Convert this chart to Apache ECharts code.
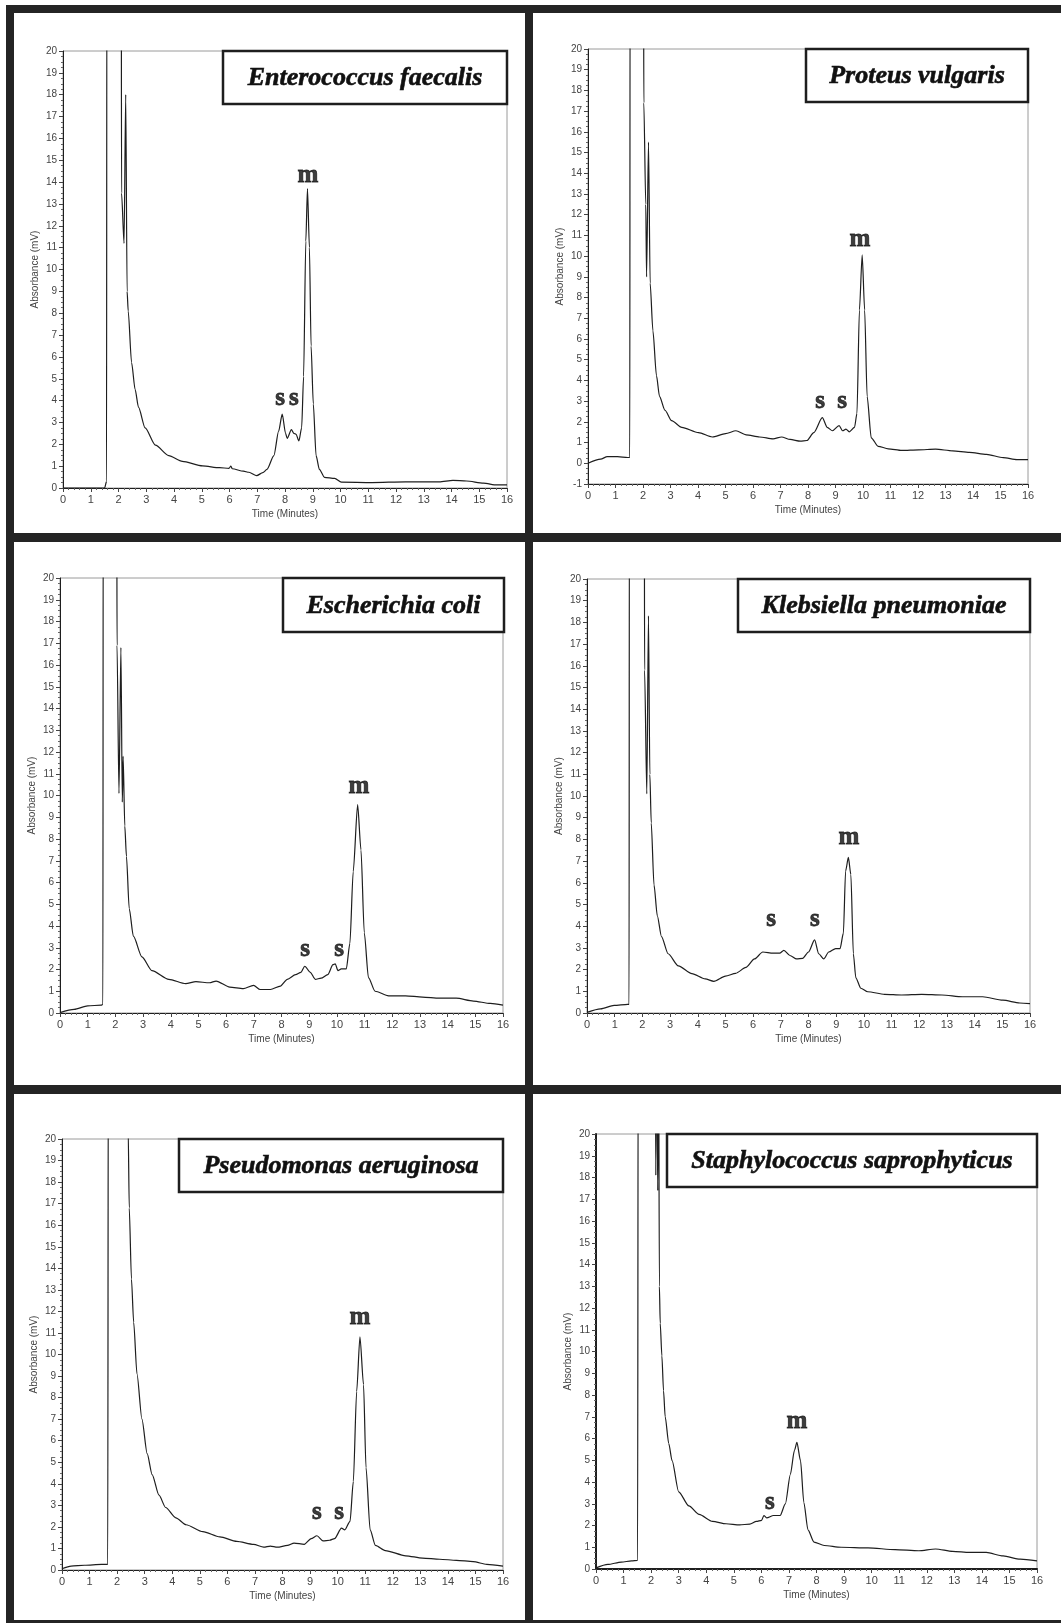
<!DOCTYPE html>
<html>
<head>
<meta charset="utf-8">
<title>HPLC chromatograms</title>
<script src="https://cdn.jsdelivr.net/npm/echarts@6.0.0/dist/echarts.min.js"></script>
<style>
  html, body { margin: 0; padding: 0; background: #fff; }
  #chart { width: 1061px; height: 1623px; }
</style>
</head>
<body>
<div id="chart"></div>
<script>
// panel titles, in reading order
const species = [
  'Enterococcus faecalis', 'Proteus vulgaris',
  'Escherichia coli', 'Klebsiella pneumoniae',
  'Pseudomonas aeruginosa', 'Staphylococcus saprophyticus',
]

// x ticks (minutes)
const timeMin = 0
const timeMax = 16
// lower end of each panel's y axis (mV); top is 20 everywhere
const yMins = [0, -1, 0, 0, 0, 0]
const yMax = 20

// traces: [time (min), absorbance (mV)]; values above 20 are off-scale
const enterococcus = [
  [0, 0], [1.5, 0], [1.57, 0.3], [1.58, 25], [2.1, 25], [2.11, 13.5], [2.2, 11.2], [2.26, 18.0],
  [2.31, 9.0], [2.35, 8.1], [2.47, 5.75], [2.6, 4.5], [2.72, 3.7], [2.96, 2.75], [3.33, 1.96],
  [3.81, 1.48], [4.3, 1.22], [5.03, 1.01], [5.64, 0.93], [5.98, 0.9], [6.05, 1.0], [6.1, 0.88],
  [6.5, 0.77], [6.7, 0.72], [6.98, 0.57], [7.2, 0.7], [7.35, 0.85], [7.6, 1.48], [7.77, 2.6],
  [7.9, 3.38], [8.02, 2.5], [8.08, 2.27], [8.23, 2.67], [8.32, 2.5], [8.4, 2.46], [8.5, 2.15],
  [8.6, 2.75], [8.67, 5.1], [8.75, 11.3], [8.81, 13.7], [8.88, 11.0], [8.94, 6.5], [9.02, 3.85],
  [9.12, 1.48], [9.24, 0.85], [9.42, 0.49], [9.79, 0.44], [10.03, 0.27], [11.13, 0.25],
  [12.34, 0.28], [13.56, 0.28], [14.05, 0.35], [14.54, 0.32], [15.15, 0.22], [15.63, 0.14], [16, 0.14],
]
const proteus = [
  [0, 0.0], [0.46, 0.2], [0.7, 0.32], [1.07, 0.32], [1.44, 0.28], [1.52, 0.28], [1.53, 25],
  [2.02, 25], [2.03, 17.4], [2.1, 12.5], [2.13, 9.0], [2.2, 15.5], [2.26, 8.7], [2.36, 6.4],
  [2.49, 4.23], [2.6, 3.23], [2.8, 2.56], [3.04, 2.06], [3.41, 1.73], [4.02, 1.48], [4.52, 1.27],
  [5.0, 1.43], [5.38, 1.57], [5.75, 1.37], [6.24, 1.27], [6.73, 1.18], [7.04, 1.27], [7.35, 1.15],
  [7.72, 1.07], [7.96, 1.1], [8.21, 1.48], [8.52, 2.2], [8.7, 1.73], [8.89, 1.57], [9.13, 1.82],
  [9.26, 1.57], [9.38, 1.65], [9.5, 1.52], [9.69, 1.73], [9.78, 2.4], [9.87, 7.4], [9.97, 10.06],
  [10.06, 7.4], [10.15, 3.23], [10.3, 1.23], [10.55, 0.82], [10.92, 0.7], [11.41, 0.62],
  [12.02, 0.65], [12.64, 0.68], [13.26, 0.6], [13.87, 0.53], [14.49, 0.43], [15.1, 0.27],
  [15.6, 0.18], [16, 0.18],
]
const ecoli = [
  [0, 0.02], [0.51, 0.17], [1.0, 0.33], [1.49, 0.36], [1.55, 0.4], [1.56, 25], [2.05, 25],
  [2.06, 16.9], [2.13, 10.1], [2.2, 16.8], [2.25, 9.7], [2.28, 11.8], [2.34, 8.6], [2.4, 7.2],
  [2.5, 4.8], [2.65, 3.53], [2.96, 2.58], [3.32, 1.95], [3.93, 1.55], [4.54, 1.35], [4.91, 1.44],
  [5.4, 1.39], [5.64, 1.47], [6.13, 1.19], [6.62, 1.12], [6.99, 1.27], [7.23, 1.08], [7.6, 1.08],
  [7.96, 1.24], [8.21, 1.55], [8.51, 1.76], [8.7, 1.87], [8.84, 2.15], [9.04, 1.87], [9.22, 1.55],
  [9.43, 1.6], [9.67, 1.76], [9.86, 2.22], [9.94, 2.26], [10.04, 1.95], [10.16, 2.03],
  [10.34, 2.03], [10.47, 3.2], [10.59, 6.5], [10.75, 9.58], [10.87, 7.5], [10.99, 3.69],
  [11.14, 1.63], [11.38, 1.0], [11.87, 0.79], [12.48, 0.79], [13.09, 0.73], [13.7, 0.68],
  [14.31, 0.68], [14.93, 0.55], [15.54, 0.44], [16, 0.36],
]
const klebsiella = [
  [0, 0.03], [0.49, 0.19], [0.98, 0.35], [1.47, 0.4], [1.52, 0.4], [1.53, 25], [2.07, 25],
  [2.08, 15.8], [2.16, 10.1], [2.22, 18.3], [2.27, 11.0], [2.32, 8.76], [2.42, 5.9], [2.54, 4.48],
  [2.69, 3.52], [2.93, 2.73], [3.3, 2.17], [3.79, 1.81], [4.27, 1.57], [4.58, 1.46], [5.0, 1.7],
  [5.37, 1.83], [5.74, 2.1], [6.05, 2.49], [6.35, 2.81], [6.72, 2.76], [6.96, 2.76], [7.11, 2.89],
  [7.33, 2.65], [7.57, 2.49], [7.79, 2.52], [8.0, 2.81], [8.22, 3.37], [8.37, 2.73], [8.55, 2.49],
  [8.73, 2.81], [8.98, 2.97], [9.14, 2.97], [9.26, 3.68], [9.34, 6.54], [9.44, 7.17], [9.53, 6.38],
  [9.62, 2.73], [9.71, 1.62], [9.89, 1.14], [10.14, 0.98], [10.75, 0.86], [11.36, 0.83],
  [12.09, 0.86], [12.82, 0.83], [13.56, 0.75], [14.29, 0.75], [15.02, 0.59], [15.63, 0.46], [16, 0.43],
]
const pseudomonas = [
  [0, 0.06], [0.33, 0.18], [0.82, 0.22], [1.43, 0.26], [1.66, 0.26], [1.68, 25], [2.38, 25],
  [2.4, 20.5], [2.44, 16.8], [2.52, 13.5], [2.6, 11.5], [2.72, 9.1], [2.9, 7.0], [3.09, 5.4],
  [3.27, 4.43], [3.52, 3.47], [3.76, 2.9], [4.13, 2.42], [4.5, 2.1], [5.11, 1.78], [5.73, 1.54],
  [6.34, 1.33], [6.95, 1.19], [7.32, 1.06], [7.56, 1.11], [7.81, 1.06], [8.18, 1.14], [8.42, 1.25],
  [8.79, 1.19], [9.04, 1.46], [9.25, 1.59], [9.47, 1.35], [9.71, 1.38], [9.89, 1.46], [10.14, 1.94],
  [10.26, 1.86], [10.45, 2.26], [10.57, 4.11], [10.69, 8.28], [10.81, 10.82], [10.94, 8.6],
  [11.03, 4.75], [11.18, 1.86], [11.37, 1.14], [11.73, 0.9], [12.47, 0.66], [13.08, 0.55],
  [13.7, 0.5], [14.31, 0.45], [14.92, 0.39], [15.41, 0.26], [16, 0.18],
]
const staph = [
  [0, 0.05], [0.43, 0.21], [0.92, 0.32], [1.29, 0.37], [1.51, 0.4], [1.53, 25], [2.15, 25],
  [2.17, 18.1], [2.19, 25], [2.24, 17.4], [2.27, 25], [2.3, 13.0], [2.33, 11.3], [2.39, 9.8],
  [2.45, 8.2], [2.51, 7.0], [2.64, 5.77], [2.76, 4.98], [3.0, 3.55], [3.37, 2.9], [3.74, 2.51],
  [4.23, 2.19], [4.72, 2.08], [5.21, 2.03], [5.58, 2.06], [5.82, 2.19], [6.01, 2.24], [6.09, 2.46],
  [6.19, 2.35], [6.44, 2.46], [6.68, 2.46], [6.87, 2.99], [7.05, 4.34], [7.2, 5.45], [7.29, 5.82],
  [7.42, 4.98], [7.54, 3.07], [7.69, 1.8], [7.91, 1.24], [8.28, 1.08], [8.89, 1.0], [9.87, 0.97],
  [10.85, 0.89], [11.71, 0.84], [12.32, 0.92], [12.94, 0.81], [13.55, 0.76], [14.16, 0.76],
  [14.77, 0.6], [15.39, 0.45], [16, 0.37],
]

// peak letters: [time, mV, text]
const enterococcusMarks = [[8.83, 14.3, 'm'], [7.82, 4.1, 's'], [8.32, 4.1, 's']]
const proteusMarks = [[9.89, 10.8, 'm'], [8.44, 3.0, 's'], [9.24, 3.0, 's']]
const ecoliMarks = [[10.8, 10.4, 'm'], [8.85, 2.9, 's'], [10.08, 2.9, 's']]
const klebsiellaMarks = [[9.46, 8.1, 'm'], [6.65, 4.3, 's'], [8.23, 4.3, 's']]
const pseudomonasMarks = [[10.81, 11.7, 'm'], [9.25, 2.65, 's'], [10.05, 2.65, 's']]
const staphMarks = [[7.29, 6.8, 'm'], [6.31, 3.05, 's']]

const traces = [enterococcus, proteus, ecoli, klebsiella, pseudomonas, staph]
const marks = [enterococcusMarks, proteusMarks, ecoliMarks, klebsiellaMarks, pseudomonasMarks, staphMarks]

// plot areas [left, top, width, height] and the title boxes [x, y, w, h]
const plots = [
  [63, 51, 444, 437], [588, 49, 440, 435],
  [60, 578, 443, 435], [587, 579, 443, 434],
  [62, 1139, 441, 431], [596, 1134, 441, 435],
]
const boxes = [
  [223, 51, 284, 53], [806, 49, 222, 53],
  [283, 578, 221, 54], [738, 579, 292, 53],
  [179, 1139, 324, 53], [667, 1134, 370, 53],
]
// white cells inside the dark frame
const cells = [
  [14, 13, 511, 520], [533, 13, 540, 520],
  [14, 542, 511, 543], [533, 542, 540, 543],
  [14, 1094, 511, 526], [533, 1094, 540, 526],
]

const sans = '"Liberation Sans", Arial, sans-serif'
const serif = '"Liberation Serif", "Times New Roman", serif'
const ink = '#1e1e1e'

const chart = echarts.init(document.getElementById('chart'), null, { renderer: 'canvas' })

const grid = plots.map(p => ({
  left: p[0], top: p[1], width: p[2], height: p[3],
  show: true, borderColor: '#9a9a9a', borderWidth: 1, backgroundColor: 'transparent',
}))

const xAxis = plots.map((p, i) => ({
  gridIndex: i,
  type: 'value',
  min: timeMin,
  max: timeMax,
  interval: 1,
  name: 'Time (Minutes)',
  nameLocation: 'middle',
  nameGap: 21,
  nameTextStyle: { fontFamily: sans, fontSize: 10, color: '#444' },
  axisLine: { show: true, onZero: false, lineStyle: { color: ink, width: i === 5 ? 2 : 1 } },
  axisTick: { show: true, length: 4, lineStyle: { color: '#444' } },
  minorTick: { show: true, splitNumber: 5, length: 2, lineStyle: { color: '#666' } },
  axisLabel: { fontFamily: sans, fontSize: 11, color: '#444', margin: 6 },
  splitLine: { show: false },
}))

const yAxis = plots.map((p, i) => ({
  gridIndex: i,
  type: 'value',
  min: yMins[i],
  max: yMax,
  interval: 1,
  name: 'Absorbance (mV)',
  nameLocation: 'middle',
  nameGap: 23,
  nameTextStyle: { fontFamily: sans, fontSize: 10, color: '#444' },
  axisLine: { show: true, onZero: false, lineStyle: { color: ink, width: i === 5 ? 2 : 1 } },
  axisTick: { show: true, length: 4, lineStyle: { color: '#444' } },
  minorTick: { show: true, splitNumber: 4, length: 2, lineStyle: { color: '#666' } },
  axisLabel: { fontFamily: sans, fontSize: 10, color: '#444', margin: 6 },
  splitLine: { show: false },
}))

const series = []
traces.forEach((data, i) => {
  series.push({
    type: 'line',
    xAxisIndex: i,
    yAxisIndex: i,
    data,
    symbol: 'none',
    clip: true,
    smooth: 0.25,
    smoothMonotone: 'x',
    animation: false,
    lineStyle: { color: ink, width: 1.2 },
  })
  series.push({
    type: 'scatter',
    xAxisIndex: i,
    yAxisIndex: i,
    data: marks[i],
    symbolSize: 0,
    silent: true,
    animation: false,
    label: {
      show: true,
      position: 'inside',
      formatter: p => p.value[2],
      fontFamily: serif,
      fontWeight: 'bold',
      fontSize: 25,
      color: '#0d0d0d',
      textBorderColor: '#0d0d0d',
      textBorderWidth: 0.8,
    },
  })
})

const graphic = [
  { type: 'rect', z: -10, shape: { x: 6, y: 5, width: 1070, height: 1630 }, style: { fill: '#242424' } },
  ...cells.map(c => ({
    type: 'rect', z: -9, shape: { x: c[0], y: c[1], width: c[2], height: c[3] }, style: { fill: '#fff' },
  })),
  ...boxes.map((b, i) => ({
    type: 'group',
    z: 100,
    children: [
      { type: 'rect', z: 100, shape: { x: b[0], y: b[1], width: b[2], height: b[3] },
        style: { fill: '#fff', stroke: ink, lineWidth: 2.5 } },
      { type: 'text', z: 101, style: {
        x: b[0] + b[2] / 2, y: b[1] + b[3] / 2 + 1,
        text: species[i],
        fontFamily: serif, fontStyle: 'italic', fontWeight: 'bold', fontSize: 26,
        fill: '#111', stroke: '#111', lineWidth: 0.6,
        align: 'center', verticalAlign: 'middle',
      } },
    ],
  })),
]

chart.setOption({
  animation: false,
  backgroundColor: '#fff',
  grid,
  xAxis,
  yAxis,
  series,
  graphic,
})
</script>
</body>
</html>
